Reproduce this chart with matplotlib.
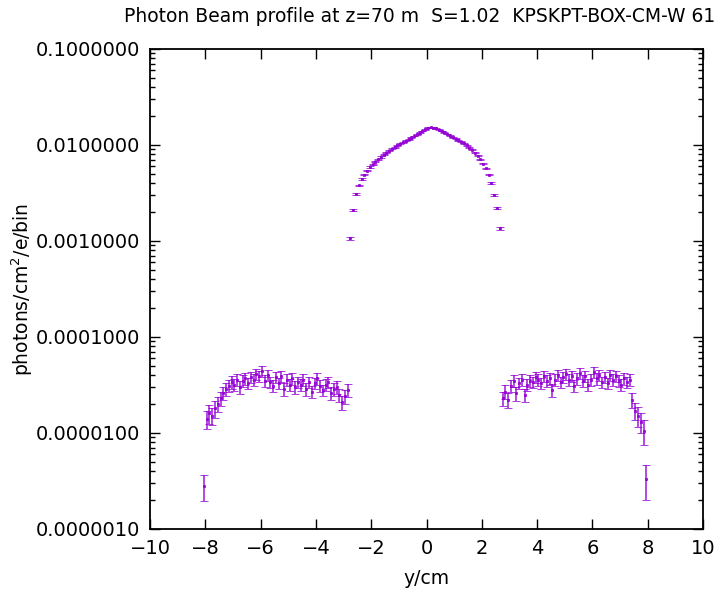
import numpy as np
import matplotlib
matplotlib.use("Agg")
import matplotlib.pyplot as plt
from matplotlib.ticker import FixedLocator, LogLocator, NullFormatter, FuncFormatter

# ---- data -------------------------------------------------------------
# central beam core: bin centres start at -2.75 cm, 0.1 cm bins
core_start = -2.75
core_y = [1.07e-3, 2.1e-3, 3.1e-3, 3.8e-3, 4.4e-3, 4.9e-3, 5.4e-3, 5.9e-3,
          6.3e-3, 6.7e-3, 7.1e-3, 7.5e-3, 7.9e-3, 8.3e-3, 8.7e-3, 9.1e-3,
          9.5e-3, 9.9e-3, 1.03e-2, 1.07e-2, 1.11e-2, 1.15e-2, 1.19e-2,
          1.24e-2, 1.29e-2, 1.34e-2, 1.40e-2, 1.46e-2, 1.51e-2, 1.53e-2,
          1.52e-2, 1.49e-2, 1.45e-2, 1.40e-2, 1.35e-2, 1.30e-2, 1.25e-2,
          1.20e-2, 1.16e-2, 1.12e-2, 1.08e-2, 1.04e-2, 9.9e-3, 9.4e-3,
          8.9e-3, 8.3e-3, 7.7e-3, 7.1e-3, 6.4e-3, 5.7e-3, 4.9e-3, 4.0e-3,
          3.0e-3, 2.2e-3, 1.35e-3]
core_err = [0.4e-4, 0.55e-4, 0.65e-4, 0.72e-4, 0.78e-4, 0.85e-4, 0.9e-4,
            0.95e-4, 1.0e-4, 1.0e-4, 1.05e-4, 1.05e-4, 1.1e-4, 1.1e-4,
            1.15e-4, 1.15e-4, 1.2e-4, 1.2e-4, 1.2e-4, 1.25e-4, 1.25e-4,
            1.3e-4, 1.3e-4, 1.3e-4, 1.35e-4, 1.4e-4, 1.45e-4, 1.45e-4,
            1.5e-4, 1.5e-4, 1.5e-4, 1.5e-4, 1.45e-4, 1.45e-4, 1.4e-4,
            1.35e-4, 1.35e-4, 1.3e-4, 1.3e-4, 1.25e-4, 1.25e-4, 1.2e-4,
            1.2e-4, 1.15e-4, 1.15e-4, 1.1e-4, 1.05e-4, 1.0e-4, 0.95e-4,
            0.9e-4, 0.85e-4, 0.75e-4, 0.65e-4, 0.55e-4, 0.45e-4]

# halo, negative side: bins from -8.05 cm
left_start = -8.05
left_y = [0.28e-5, 1.4e-5, 1.6e-5, 1.5e-5, 1.8e-5, 2.0e-5, 2.3e-5, 2.6e-5,
          2.9e-5, 3.1e-5, 3.4e-5, 3.2e-5, 3.6e-5, 3.0e-5, 3.5e-5, 3.7e-5,
          3.3e-5, 3.8e-5, 3.6e-5, 4.1e-5, 3.9e-5, 4.4e-5, 3.5e-5, 4.0e-5,
          3.4e-5, 3.1e-5, 3.8e-5, 3.3e-5, 3.9e-5, 2.9e-5, 3.6e-5, 3.2e-5,
          3.7e-5, 3.0e-5, 3.4e-5, 3.2e-5, 3.6e-5, 2.9e-5, 3.4e-5, 2.7e-5,
          3.3e-5, 3.7e-5, 3.1e-5, 2.8e-5, 3.2e-5, 3.4e-5, 2.6e-5, 2.9e-5,
          3.0e-5, 2.5e-5, 2.1e-5, 2.4e-5, 2.8e-5]
left_err = [0.085e-5, 0.3e-5, 0.35e-5, 0.3e-5, 0.35e-5, 0.35e-5, 0.4e-5,
            0.4e-5, 0.45e-5, 0.45e-5, 0.5e-5, 0.45e-5, 0.5e-5, 0.45e-5,
            0.5e-5, 0.5e-5, 0.45e-5, 0.5e-5, 0.5e-5, 0.55e-5, 0.5e-5,
            0.55e-5, 0.5e-5, 0.5e-5, 0.45e-5, 0.45e-5, 0.5e-5, 0.45e-5,
            0.5e-5, 0.45e-5, 0.5e-5, 0.45e-5, 0.5e-5, 0.45e-5, 0.45e-5,
            0.45e-5, 0.5e-5, 0.45e-5, 0.45e-5, 0.4e-5, 0.45e-5, 0.5e-5,
            0.45e-5, 0.4e-5, 0.45e-5, 0.45e-5, 0.4e-5, 0.45e-5, 0.45e-5,
            0.4e-5, 0.35e-5, 0.4e-5, 0.45e-5]

# halo, positive side: bins from 2.75 cm
right_start = 2.75
right_y = [2.3e-5, 2.7e-5, 2.2e-5, 3.1e-5, 3.5e-5, 2.6e-5, 3.3e-5, 3.6e-5,
           2.5e-5, 3.2e-5, 3.5e-5, 3.4e-5, 3.8e-5, 3.6e-5, 3.3e-5, 3.9e-5,
           3.5e-5, 3.7e-5, 2.8e-5, 3.6e-5, 4.0e-5, 3.4e-5, 3.8e-5, 4.1e-5,
           3.6e-5, 3.9e-5, 3.1e-5, 3.7e-5, 4.2e-5, 3.5e-5, 3.9e-5, 3.2e-5,
           3.6e-5, 4.3e-5, 3.7e-5, 4.0e-5, 3.4e-5, 3.8e-5, 3.3e-5, 4.0e-5,
           3.6e-5, 3.9e-5, 3.5e-5, 3.2e-5, 3.7e-5, 3.4e-5, 3.6e-5, 2.2e-5,
           1.7e-5, 1.5e-5, 1.3e-5, 1.05e-5, 0.33e-5]
right_err = [0.4e-5, 0.45e-5, 0.4e-5, 0.45e-5, 0.5e-5, 0.45e-5, 0.45e-5,
             0.5e-5, 0.4e-5, 0.45e-5, 0.5e-5, 0.45e-5, 0.5e-5, 0.5e-5,
             0.45e-5, 0.5e-5, 0.5e-5, 0.5e-5, 0.45e-5, 0.5e-5, 0.5e-5,
             0.45e-5, 0.5e-5, 0.55e-5, 0.5e-5, 0.5e-5, 0.45e-5, 0.5e-5,
             0.55e-5, 0.5e-5, 0.5e-5, 0.45e-5, 0.5e-5, 0.55e-5, 0.5e-5,
             0.5e-5, 0.45e-5, 0.5e-5, 0.45e-5, 0.5e-5, 0.5e-5, 0.5e-5,
             0.5e-5, 0.45e-5, 0.5e-5, 0.45e-5, 0.5e-5, 0.4e-5, 0.35e-5,
             0.35e-5, 0.3e-5, 0.3e-5, 0.13e-5]

bin_width = 0.1
x_ticks = [-10, -8, -6, -4, -2, 0, 2, 4, 6, 8, 10]
y_ticks = [1e-6, 1e-5, 1e-4, 1e-3, 1e-2, 1e-1]

title = "Photon Beam profile at z=70 m  S=1.02  KPSKPT-BOX-CM-W 61"
color = "#9400D3"

# ---- figure -----------------------------------------------------------
plt.rcParams["font.family"] = ["DejaVu Sans"]
fig = plt.figure(figsize=(7.22, 5.97), dpi=100)
ax = fig.add_axes([150 / 722, 1 - 529 / 597, 553 / 722, 480 / 597])

for start, ys, es in [(left_start, left_y, left_err),
                      (core_start, core_y, core_err),
                      (right_start, right_y, right_err)]:
    xs = start + bin_width * np.arange(len(ys))
    ax.errorbar(xs, ys, yerr=es, fmt="s", ms=1.8, color=color,
                ecolor=color, elinewidth=1.1, capsize=3.2, capthick=1.4,
                markeredgewidth=0.6, alpha=0.9)

ax.set_yscale("log")
ax.set_xlim(-10, 10)
ax.set_ylim(1e-6, 1e-1)

ax.xaxis.set_major_locator(FixedLocator(x_ticks))
ax.yaxis.set_major_locator(FixedLocator(y_ticks))
ax.yaxis.set_minor_locator(LogLocator(base=10, subs=np.arange(2, 10)))
ax.yaxis.set_minor_formatter(NullFormatter())
ax.yaxis.set_major_formatter(FuncFormatter(lambda v, p: f"{v:.7f}"))

ax.tick_params(which="both", direction="in", top=True, right=True,
               labelsize=14, width=1.0, pad=7)
ax.tick_params(which="major", length=7)
ax.tick_params(which="minor", length=3.5)
for s in ax.spines.values():
    s.set_linewidth(1.3)

ax.set_xlabel("y/cm", fontsize=13.5, labelpad=8)
ax.set_ylabel("photons/cm$^2$/e/bin", fontsize=13.5, labelpad=1)
fig.text(420 / 722, 1 - 17 / 597, title, ha="center", va="center",
         fontsize=13.5)

fig.savefig("out.png", dpi=100)
